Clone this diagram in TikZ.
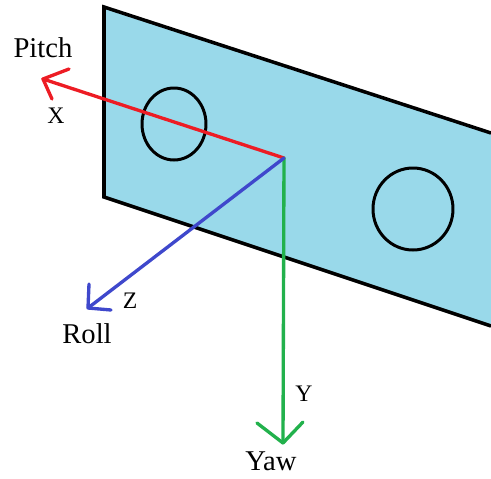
\documentclass[tikz,border=0pt]{standalone}
\usepackage{fontspec}
\setmainfont{Liberation Serif}
\usepackage{xcolor}
\usepackage{tikz}
\definecolor{panelblue}{RGB}{153,217,234}
\definecolor{axisred}{RGB}{237,28,36}
\definecolor{axisblue}{RGB}{63,72,204}
\definecolor{axisgreen}{RGB}{34,177,76}
\tikzset{
	axisline/.style={line width=1.9pt, line cap=round, line join=round},
	bigtext/.style={font=\fontsize{16.3}{18}\selectfont, inner sep=0pt},
	smalltext/.style={font=\fontsize{13.5}{15}\selectfont, inner sep=0pt}
}

\begin{document}
\begin{tikzpicture}[x=0.02cm, y=-0.02cm]
		\useasboundingbox (0,0) rectangle (491,478);
		
		% panel
		\coordinate (ptl) at (104,7);
		\coordinate (ptr) at (491,133);
		\coordinate (pbr) at (491,326);
		\coordinate (pbl) at (104,197);
		\fill[panelblue] (ptl) -- (ptr) -- (pbr) -- (pbl) -- cycle;
		\draw[line width=2pt, line join=miter] (ptr) -- (ptl) -- (pbl) -- (pbr);
		
		% holes
		\draw[line width=1.7pt] (174,124) ellipse (32 and 36);
		\draw[line width=1.7pt] (413,209) ellipse (40 and 41);
		
		% axes
		\coordinate (origin) at (284,158);
		\coordinate (xtip) at (43,79);
		\coordinate (ytip) at (283,443);
		\coordinate (ztip) at (88,308);
		\draw[axisline, axisred] (origin) -- (xtip);
		\draw[axisline, axisred] (69,69) -- (xtip) -- (52,99);
		\draw[axisline, axisgreen] (origin) -- (ytip);
		\draw[axisline, axisgreen] (257,423) -- (ytip) -- (303,422);
		\draw[axisline, axisblue] (origin) -- (ztip);
		\draw[axisline, axisblue] (89,284) -- (ztip) -- (111,310);
		
		% labels
		\node[bigtext] (pitch) at (43,48) {Pitch};
		\node[smalltext] (xlabel) at (56,116) {X};
		\node[smalltext] (zlabel) at (130,301) {Z};
		\node[bigtext] (roll) at (87,334) {Roll};
		\node[smalltext] (ylabel) at (304,394) {Y};
		\node[bigtext] (yaw) at (271,461) {Yaw};
	\end{tikzpicture}
\end{document}
